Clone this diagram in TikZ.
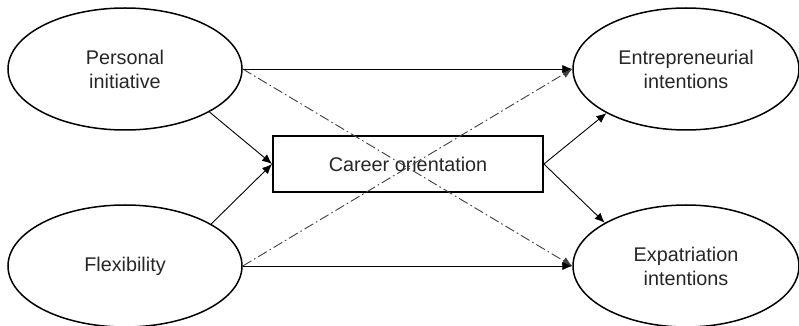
\documentclass[tikz,border=0pt]{standalone}
\usepackage{fontspec}
\setmainfont{Liberation Sans}
\usetikzlibrary{arrows.meta}
\usetikzlibrary{shapes.geometric}

\tikzset{
  construct/.style = {draw, ellipse, line width=.75pt, minimum width=113pt,
                      minimum height=61pt, align=center, inner sep=0pt},
  mediator/.style  = {draw, rectangle, line width=.9pt, minimum width=135pt,
                      minimum height=28pt},
  path/.style      = {line width=.45pt, -{Latex[length=5pt,width=4.2pt]}},
  crosspath/.style = {path, black!75, dash pattern=on 5pt off 1.6pt on .8pt off 1.6pt}
}

\begin{document}
\begin{tikzpicture}
  [x = .5pt, y = -.5pt, font = \fontsize{9.9}{12}\selectfont, text = black!85]
  \useasboundingbox (0,0) rectangle (799,326);
  % constructs
  \node[construct, minimum width=117pt] (pi) at (125,69)  {Personal\\initiative};
  \node[construct, minimum width=117pt] (fl) at (125,266) {Flexibility};
  \node[construct] (ei) at (686,69)  {Entrepreneurial\\intentions};
  \node[construct] (xi) at (686,266) {Expatriation\\intentions};
  \node[mediator]  (co) at (408,164) {Career orientation};
  % crossed paths (under the solid ones)
  \draw[crosspath] (pi.east) -- (xi.west);
  \draw[crosspath] (fl.east) -- (ei.west);
  % direct paths
  \draw[path] (pi.east) -- (ei.west);
  \draw[path] (fl.east) -- (xi.west);
  % mediated paths
  \draw[path] (pi.-27) -- (co.west);
  \draw[path] (fl.26) -- (co.west);
  \draw[path] (co.east) -- (ei.209);
  \draw[path] (co.east) -- (xi.152);
\end{tikzpicture}
\end{document}
